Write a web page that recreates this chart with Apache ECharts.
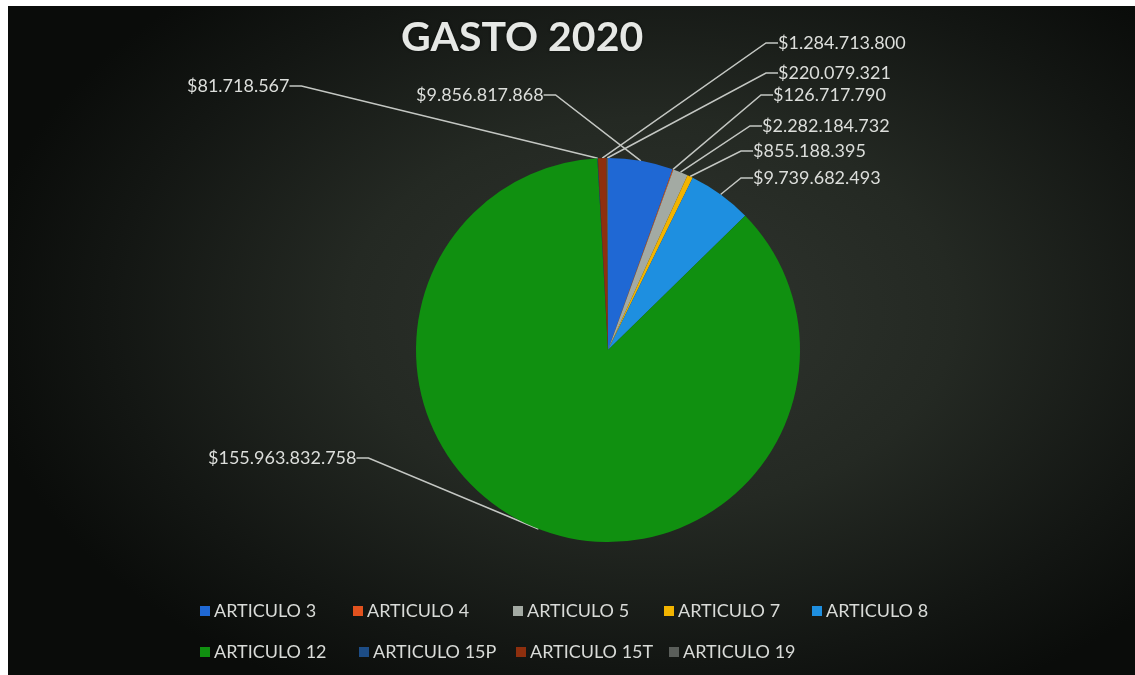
<!DOCTYPE html>
<html>
<head>
<meta charset="utf-8">
<script src="https://cdn.jsdelivr.net/npm/echarts@6/dist/echarts.min.js"></script>
<style>
  html, body { margin: 0; padding: 0; background: #ffffff; }
  #bg { position: absolute; left: 8px; top: 6px; width: 1127px; height: 669px;
        background: radial-gradient(ellipse 60% 65% at 57% 46%, #30352f 0%, #242923 45%, #131613 80%, #0a0c0a 100%); }
  #chart { position: absolute; left: 0; top: 0; width: 1135px; height: 675px; }
</style>
</head>
<body>
<div id="bg"></div>
<div id="chart"></div>
<script>
const categories = ['ARTICULO 3', 'ARTICULO 4', 'ARTICULO 5', 'ARTICULO 7', 'ARTICULO 8',
                    'ARTICULO 12', 'ARTICULO 15P', 'ARTICULO 15T', 'ARTICULO 19'];
const values = [9856817868, 126717790, 2282184732, 855188395, 9739682493,
                155963832758, 81718567, 1284713800, 220079321];
const colors = ['#1f68d4', '#e2521e', '#a3aaa3', '#f2b400', '#1e8fe0',
                '#109010', '#1d4d86', '#8e2f0e', '#5a5e5a'];
// label anchor positions (left edge, vertical middle) per slice
const labelPos = [[416, 95], [773, 95], [762, 126], [753, 151], [753, 178],
                  [208, 458], [187, 86], [778, 43], [778, 73]];
// legend item positions (left, top) per category
const legendPos = [[195, 597], [348, 597], [508, 597], [659, 597], [807, 597],
                   [195, 638], [354, 638], [511, 638], [664, 638]];

function fmt(v) {
  return '$' + String(v).replace(/\B(?=(\d{3})+(?!\d))/g, '.');
}

const chart = echarts.init(document.getElementById('chart'), null, { renderer: 'canvas' });
const FONT = 'Lato';
chart.setOption({
  backgroundColor: 'transparent',
  title: {
    text: 'GASTO 2020',
    left: 396, top: 12,
    textStyle: { color: '#e6e8e5', fontFamily: FONT, fontWeight: 'bold', fontSize: 41,
                 textShadowColor: 'rgba(0,0,0,0.6)', textShadowBlur: 3 }
  },
  legend: categories.map((c, i) => ({
    data: [c], left: legendPos[i][0], top: legendPos[i][1],
    itemWidth: 10, itemHeight: 10, itemGap: 0, icon: 'rect', selectedMode: false,
    textStyle: { color: '#d9dbd8', fontFamily: FONT, fontSize: 18, padding: [0, 0, 0, -1] }
  })),
  series: [{
    type: 'pie',
    center: [608, 350],
    radius: 192,
    startAngle: 90,
    clockwise: true,
    avoidLabelOverlap: false,
    data: categories.map((c, i) => ({ name: c, value: values[i], itemStyle: { color: colors[i] } })),
    label: {
      show: true,
      formatter: p => fmt(p.value),
      color: '#dcdedb',
      fontFamily: FONT,
      fontSize: 18
    },
    labelLine: { show: true, length: 10, length2: 12, lineStyle: { color: '#c4c7c3', width: 1.5 } },
    labelLayout: function (params) {
      const p = labelPos[params.dataIndex];
      return { x: p[0], y: p[1], align: 'left', verticalAlign: 'middle' };
    },
    itemStyle: { borderWidth: 0 },
    emphasis: { disabled: true }
  }]
});
</script>
</body>
</html>
